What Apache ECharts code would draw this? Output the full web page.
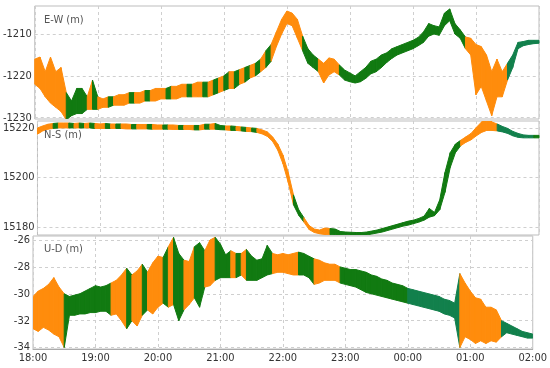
<!DOCTYPE html>
<html>
<head>
<meta charset="utf-8">
<script src="https://cdn.jsdelivr.net/npm/echarts@6/dist/echarts.min.js"></script>
<style>
  html, body { margin: 0; padding: 0; background: #fff; }
  #main { width: 550px; height: 368px; }
</style>
</head>
<body>
<div id="main"></div>
<script>
// sample times (every 5 minutes, 18:00 -> 02:00)
const sampleTimes = [
  '18:00','18:05','18:10','18:15','18:20','18:25','18:30','18:35','18:40','18:45','18:50','18:55',
  '19:00','19:05','19:10','19:15','19:20','19:25','19:30','19:35','19:40','19:45','19:50','19:55',
  '20:00','20:05','20:10','20:15','20:20','20:25','20:30','20:35','20:40','20:45','20:50','20:55',
  '21:00','21:05','21:10','21:15','21:20','21:25','21:30','21:35','21:40','21:45','21:50','21:55',
  '22:00','22:05','22:10','22:15','22:20','22:25','22:30','22:35','22:40','22:45','22:50','22:55',
  '23:00','23:05','23:10','23:15','23:20','23:25','23:30','23:35','23:40','23:45','23:50','23:55',
  '00:00','00:05','00:10','00:15','00:20','00:25','00:30','00:35','00:40','00:45','00:50','00:55',
  '01:00','01:05','01:10','01:15','01:20','01:25','01:30','01:35','01:40','01:45','01:50','01:55',
  '02:00'
];
const hourLabels = ['18:00','19:00','20:00','21:00','22:00','23:00','00:00','01:00','02:00'];

// E-W (m): lower / upper edge of the noisy trace
const ewLow = [
  -1222, -1223, -1225, -1226.5, -1227.5, -1228.5, -1230.5, -1229.5, -1229, -1229,
  -1228, -1228, -1228, -1227.5, -1227.5, -1227, -1227, -1227, -1226.5, -1226.5,
  -1226.5, -1226, -1226, -1226, -1225.5, -1225.5, -1225.5, -1225.5, -1225, -1225,
  -1225, -1225, -1225, -1225, -1224.5, -1224, -1223.5, -1223, -1223, -1222,
  -1221.5, -1220.5, -1220, -1219, -1218, -1216.5, -1213, -1210, -1207.5, -1208,
  -1211, -1214, -1217, -1218, -1219, -1221.7, -1219.8, -1219, -1219.8, -1221,
  -1221.4, -1221.7, -1221.4, -1220.6, -1219.5, -1219, -1218, -1216.8, -1215.8, -1215,
  -1214.5, -1214, -1213.5, -1212.8, -1212, -1210.5, -1210, -1210.3, -1208, -1206.8,
  -1210, -1211, -1213.5, -1215, -1224.5, -1222.5, -1226, -1229.5, -1225, -1225,
  -1221, -1218, -1213.5, -1212.8, -1212.5, -1212.3, -1212.2
];
const ewHigh = [
  -1216, -1215.5, -1219, -1215.5, -1219, -1218, -1224, -1226, -1223, -1223,
  -1225, -1221, -1225, -1225.5, -1225, -1225, -1224.5, -1224.5, -1224, -1224,
  -1224, -1223.5, -1223.5, -1223, -1223, -1223, -1222.5, -1222.5, -1222, -1222,
  -1222, -1221.5, -1221.5, -1221.5, -1221, -1220.5, -1220, -1219, -1219, -1218.5,
  -1218, -1217.5, -1217, -1216, -1214, -1212.5, -1209.5, -1206.5, -1204.5, -1205,
  -1206.5, -1210.5, -1213.5, -1215, -1216, -1217, -1215.7, -1216, -1217.4, -1218.6,
  -1219.3, -1220, -1219, -1218, -1216.5, -1216, -1215, -1214.5, -1213.5, -1213,
  -1212.5, -1212, -1211.5, -1210.8, -1209.5, -1207.5, -1208, -1208.3, -1205, -1204,
  -1207.5, -1209, -1210.7, -1211, -1212.5, -1213, -1215, -1219, -1216, -1219,
  -1217, -1215, -1212, -1211.8, -1211.5, -1211.5, -1211.5
];
const ewColor = 'oooooo' + 'gggg' + 'ogoogooogoogooogooogoogogogogogogog' + 'oooooo' + 'ggg' + 'oooo' +
  'gggggggggggggggggggggggg' + 'oooooooo' + 'ttttttt';

// N-S (m)
const nsLow = [
  15217.5, 15218.8, 15219.5, 15219.8, 15220, 15220, 15220, 15220, 15220, 15220,
  15220, 15219.8, 15219.8, 15219.8, 15219.8, 15219.8, 15219.8, 15219.6, 15219.6, 15219.6,
  15219.6, 15219.6, 15219.5, 15219.5, 15219.5, 15219.5, 15219.4, 15219.4, 15219.4, 15219.4,
  15219.2, 15219.2, 15219.5, 15219.5, 15219.5, 15219.3, 15219.2, 15219, 15219, 15218.8,
  15218.6, 15218.5, 15218.2, 15217.6, 15216.6, 15214.6, 15211, 15205.5, 15198, 15189,
  15184.8, 15182, 15179, 15177.8, 15177.3, 15177, 15176.9, 15177, 15177, 15176.9,
  15176.8, 15176.6, 15176.6, 15176.8, 15177.2, 15177.6, 15178, 15178.6, 15179.2, 15179.8,
  15180.4, 15180.8, 15181.4, 15182, 15182.8, 15184, 15184.6, 15187, 15194, 15204,
  15210, 15212.8, 15214.2, 15215.2, 15216.8, 15218.2, 15219, 15219, 15218.8, 15218.4,
  15217.8, 15216.8, 15216.2, 15216, 15216, 15216, 15216
];
const nsHigh = [
  15220, 15220.8, 15221.5, 15221.8, 15222, 15222, 15222, 15221.8, 15222, 15221.8,
  15222, 15221.8, 15221.6, 15221.8, 15221.6, 15221.6, 15221.6, 15221.6, 15221.4, 15221.4,
  15221.4, 15221.4, 15221.4, 15221.2, 15221.2, 15221.2, 15221.2, 15221, 15221, 15221,
  15221, 15221, 15221.5, 15221.5, 15221.8, 15221, 15220.8, 15220.8, 15220.6, 15220.4,
  15220.2, 15220, 15219.8, 15219.2, 15218.4, 15216.4, 15213.5, 15209, 15202, 15193,
  15187, 15183.8, 15180.6, 15179.2, 15178.8, 15179.6, 15179.4, 15179.2, 15178.2, 15178,
  15177.9, 15177.8, 15177.8, 15178, 15178.4, 15178.8, 15179.4, 15180, 15180.6, 15181.2,
  15181.8, 15182.4, 15182.8, 15183.5, 15184.4, 15187.5, 15185.9, 15191, 15202, 15210,
  15213.5, 15215, 15216.4, 15217.8, 15220.2, 15222.4, 15224.6, 15222.4, 15221.6, 15220.6,
  15219.8, 15218.6, 15217.8, 15217.2, 15217, 15217, 15217
];
const nsColor = 'ooogoogogogoogogoogoogoogoogoogogoggogogog' + 'ooooooo' + 'gg' + 'ooooo' +
  'ggggggggggggggggggggggggg' + 'ooooooo' + 'ttttttt';

// U-D (m)
const udLow = [
  -32.6, -32.8, -32.5, -32.7, -33, -33.2, -34, -31.6, -31.6, -31.5,
  -31.5, -31.4, -31.4, -31.3, -31.3, -31.6, -31.5, -32, -32.6, -32,
  -32.4, -31.6, -31.2, -31.5, -31, -30.7, -31, -30.8, -32, -31.2,
  -30.8, -30.3, -31, -29.5, -29.4, -29, -28.8, -28.8, -28.8, -28.8,
  -28.6, -29, -29, -29, -28.8, -28.6, -28.5, -28.4, -28.4, -28.5,
  -28.6, -28.6, -28.6, -28.8, -29.3, -29.2, -29, -29, -29, -29.2,
  -29.3, -29.4, -29.5, -29.7, -29.9, -30, -30.1, -30.2, -30.3, -30.4,
  -30.5, -30.6, -30.7, -30.8, -30.9, -31, -31.1, -31.2, -31.3, -31.5,
  -31.6, -31.8, -34, -33.2, -33.4, -33.7, -33.5, -33.7, -33.5, -33.6,
  -33.2, -32.9, -33, -33.1, -33.2, -33.3, -33.3
];
const udHigh = [
  -30.2, -29.8, -29.6, -29.3, -28.8, -29.5, -30, -30.2, -30.1, -30,
  -29.8, -29.6, -29.4, -29.5, -29.4, -29.2, -29, -28.6, -28.1, -28.6,
  -28.3, -27.8, -28.4, -27.7, -27.2, -27.3, -26.5, -25.8, -27, -27.5,
  -27.6, -26.5, -26.2, -26.8, -26, -25.8, -26.3, -27.1, -26.8, -27,
  -27, -26.7, -27.2, -27.5, -27.4, -26.4, -27, -27.1, -27, -27.1,
  -27, -26.9, -27, -27.2, -27.4, -27.5, -27.7, -27.8, -27.8, -28,
  -28.1, -28.2, -28.2, -28.3, -28.4, -28.6, -28.7, -28.9, -29, -29.2,
  -29.3, -29.4, -29.6, -29.7, -29.8, -29.9, -30, -30.1, -30.2, -30.4,
  -30.5, -30.7, -28.5, -29.2, -29.8, -30.3, -30.4, -31, -31, -31.2,
  -32, -32.2, -32.4, -32.6, -32.8, -32.9, -33
];
const udColor = 'oooooo' + 'ggggggggg' + 'ooogoogooogoggooggoogggogo' + 'ggggg' + 'ooooo' + 'ggg' + 'ooooo' +
  'ggggggggggggg' + 'tttttttttt' + 'oooooooo' + 'ttttttt';

const ewTicks = [-1230, -1220, -1210];
const nsTicks = [15180, 15200, 15220];
const udTicks = [-34, -32, -30, -28, -26];

const palette = { o: '#ff8c0c', g: '#117a11', t: '#12804c' };
const labelFont = "'Liberation Sans Narrow', 'DejaVu Sans Condensed', sans-serif";

// hours since 18:00
function toHours(s) {
  let h = parseInt(s.slice(0, 2), 10);
  const m = parseInt(s.slice(3, 5), 10);
  if (h < 18) h += 24;
  return h - 18 + m / 60;
}
const xs = sampleTimes.map(toHours);

function bandSeries(idx, low, high, codes) {
  const data = xs.map((x, i) => [x, low[i], high[i]]);
  return {
    type: 'custom',
    xAxisIndex: idx,
    yAxisIndex: idx,
    clip: true,
    data: data,
    encode: { x: 0, y: [1, 2] },
    renderItem: function (params, api) {
      const i = params.dataIndex;
      if (i >= data.length - 1) return null;
      const a = data[i], b = data[i + 1];
      const c = palette[codes.charAt(i)] || palette.g;
      return {
        type: 'polygon',
        shape: { points: [api.coord([a[0], a[2]]), api.coord([b[0], b[2]]), api.coord([b[0], b[1]]), api.coord([a[0], a[1]])] },
        style: { fill: c, stroke: c, lineWidth: 1 }
      };
    }
  };
}

const grids = [
  { left: 33, right: 11, top: 6, height: 113 },
  { left: 33, right: 11, top: 121, height: 114 },
  { left: 33, right: 11, top: 236, height: 113 }
];

function xAxis(idx, showLabel) {
  return {
    type: 'value', gridIndex: idx, min: 0, max: 8, interval: 1,
    axisLine: { show: showLabel, lineStyle: { color: '#aaa' } },
    axisTick: { show: false },
    axisLabel: {
      show: showLabel, margin: 4, color: '#333', fontSize: 11, fontFamily: labelFont,
      formatter: v => hourLabels[Math.round(v)] || ''
    },
    splitLine: { show: true, lineStyle: { color: '#cfcfcf', type: [3, 3] } }
  };
}

function yAxis(idx, min, max, ticks) {
  return {
    type: 'value', gridIndex: idx, min: min, max: max,
    axisLine: { show: false },
    axisTick: { show: false, customValues: ticks },
    axisLabel: {
      customValues: ticks, margin: 3, color: '#333', fontSize: 11, fontFamily: labelFont,
      formatter: v => String(v)
    },
    splitLine: { show: true, lineStyle: { color: '#cfcfcf', type: [3, 3] } }
  };
}

const chart = echarts.init(document.getElementById('main'), null, { renderer: 'canvas' });

chart.setOption({
  animation: false,
  backgroundColor: '#fff',
  title: [
    { text: 'E-W (m)', left: 39, top: 10 },
    { text: 'N-S (m)', left: 39, top: 125 },
    { text: 'U-D (m)', left: 39, top: 239 }
  ].map(t => Object.assign(t, { textStyle: { fontSize: 11, fontWeight: 'normal', color: '#555', fontFamily: labelFont } })),
  grid: grids.map(g => Object.assign(g, { show: true, borderColor: '#bdbdbd', borderWidth: 1, backgroundColor: 'transparent' })),
  xAxis: [xAxis(0, false), xAxis(1, false), xAxis(2, true)],
  yAxis: [
    yAxis(0, -1230.3, -1203.3, ewTicks),
    yAxis(1, 15176.8, 15222.8, nsTicks),
    yAxis(2, -34.11, -25.7, udTicks)
  ],
  series: [
    bandSeries(0, ewLow, ewHigh, ewColor),
    bandSeries(1, nsLow, nsHigh, nsColor),
    bandSeries(2, udLow, udHigh, udColor)
  ]
});
</script>
</body>
</html>
